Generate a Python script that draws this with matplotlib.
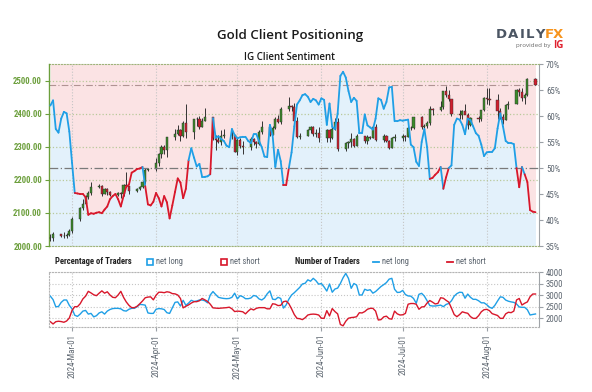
import numpy as np
import pandas as pd
import matplotlib
matplotlib.use('Agg')
import matplotlib.pyplot as plt
import matplotlib.dates as mdates
from matplotlib.collections import LineCollection
from matplotlib.patches import Rectangle
from matplotlib.lines import Line2D

# --- Gold daily candles (business days 2024-02-22 .. 2024-08-19) ---
candle_dates = pd.bdate_range('2024-02-22', '2024-08-19')
opens = [2025, 2024, 2035, 2031, 2030, 2034,
         2044, 2083, 2114, 2128, 2148, 2160, 2179, 2182, 2158, 2174, 2162, 2155, 2160, 2157, 2186, 2181, 2165, 2172, 2179, 2194, 2230,
         2232, 2250, 2280, 2300, 2290, 2329, 2339, 2352, 2333, 2372, 2344, 2383, 2383, 2361, 2379, 2392, 2327, 2322, 2316, 2332, 2337, 2335,
         2286, 2320, 2303, 2301, 2324, 2314, 2309, 2346, 2360, 2336, 2358, 2386, 2376, 2415, 2425, 2421, 2379, 2329, 2334, 2350, 2361, 2338, 2343,
         2327, 2350, 2326, 2355, 2376, 2294, 2311, 2316, 2324, 2303, 2333, 2319, 2330, 2328, 2360, 2322, 2334, 2319, 2298, 2327,
         2327, 2332, 2330, 2356, 2357, 2392, 2359, 2364, 2371, 2415, 2411, 2422, 2469, 2458, 2445, 2400, 2396, 2409, 2398, 2365, 2387, 2384, 2411,
         2448, 2446, 2443, 2410, 2390, 2382, 2427, 2431, 2472, 2465, 2447, 2456, 2507]
highs = [2035, 2041, 2037, 2041, 2038, 2052,
         2088, 2119, 2141, 2153, 2165, 2195, 2189, 2184, 2175, 2175, 2166, 2163, 2162, 2187, 2223, 2183, 2177, 2183, 2197, 2235, 2236,
         2266, 2281, 2305, 2305, 2331, 2354, 2365, 2354, 2378, 2431, 2384, 2392, 2395, 2388, 2418, 2392, 2335, 2337, 2352, 2353, 2353, 2337,
         2326, 2326, 2319, 2331, 2327, 2319, 2351, 2378, 2362, 2362, 2392, 2398, 2420, 2450, 2427, 2432, 2392, 2343, 2355, 2364, 2363, 2353, 2360,
         2353, 2353, 2359, 2388, 2387, 2316, 2317, 2342, 2327, 2338, 2334, 2335, 2332, 2365, 2368, 2338, 2335, 2322, 2331, 2339,
         2338, 2335, 2365, 2363, 2392, 2393, 2370, 2378, 2424, 2418, 2440, 2469, 2483, 2472, 2445, 2412, 2412, 2431, 2404, 2390, 2393, 2413, 2451,
         2477, 2477, 2461, 2419, 2401, 2431, 2440, 2475, 2477, 2478, 2463, 2509, 2510]
lows = [2015, 2016, 2026, 2025, 2025, 2030,
        2038, 2076, 2109, 2125, 2141, 2154, 2176, 2150, 2156, 2154, 2150, 2151, 2146, 2151, 2179, 2158, 2164, 2170, 2175, 2187, 2228,
        2228, 2243, 2267, 2278, 2268, 2321, 2336, 2319, 2330, 2326, 2324, 2364, 2355, 2359, 2379, 2320, 2292, 2312, 2307, 2326, 2323, 2285,
        2277, 2298, 2278, 2291, 2307, 2297, 2305, 2340, 2334, 2337, 2353, 2372, 2370, 2410, 2410, 2372, 2326, 2325, 2333, 2341, 2334, 2331, 2314,
        2315, 2315, 2325, 2350, 2287, 2287, 2298, 2301, 2301, 2302, 2311, 2308, 2323, 2326, 2318, 2316, 2314, 2293, 2296, 2318,
        2318, 2318, 2329, 2352, 2353, 2353, 2355, 2357, 2367, 2397, 2409, 2415, 2450, 2440, 2394, 2384, 2384, 2399, 2353, 2364, 2374, 2379, 2408,
        2430, 2427, 2385, 2385, 2368, 2381, 2415, 2429, 2455, 2439, 2431, 2455, 2486]
closes = [2024, 2035, 2031, 2030, 2034, 2044,
          2083, 2114, 2128, 2148, 2160, 2179, 2182, 2158, 2174, 2162, 2155, 2160, 2157, 2186, 2181, 2165, 2172, 2179, 2194, 2230, 2232,
          2250, 2280, 2300, 2290, 2329, 2339, 2352, 2333, 2372, 2344, 2383, 2383, 2361, 2379, 2392, 2327, 2322, 2316, 2332, 2337, 2335, 2286,
          2320, 2303, 2301, 2324, 2314, 2309, 2346, 2360, 2336, 2358, 2386, 2376, 2415, 2425, 2421, 2379, 2329, 2334, 2350, 2361, 2338, 2343, 2327,
          2350, 2326, 2355, 2376, 2294, 2311, 2316, 2324, 2303, 2333, 2319, 2330, 2328, 2360, 2322, 2334, 2319, 2298, 2327, 2327,
          2332, 2330, 2356, 2357, 2392, 2359, 2364, 2371, 2415, 2411, 2422, 2469, 2458, 2445, 2400, 2396, 2409, 2398, 2365, 2387, 2384, 2411, 2448,
          2446, 2443, 2410, 2390, 2382, 2427, 2431, 2472, 2465, 2447, 2456, 2507, 2488]

# --- IG client sentiment (daily 2024-02-22 .. 2024-08-19) ---
sent_dates = pd.date_range('2024-02-22', '2024-08-19')
pct_long = [62, 63, 57.5, 56.8, 59.5, 60.8, 60.5, 57,
            51, 45.2, 45.1, 45, 45, 44.4, 41, 41.3, 41.2, 41.4,
            41.5, 41.3, 42, 42.6, 44, 44.6, 45, 44, 42.6, 44.6,
            46.4, 46.8, 49.1, 49.4, 49.8, 49.9, 50.2, 46.5, 43, 42.8,
            43.5, 45.2, 44.2, 42.6, 44.6, 43.4, 40.3, 42.8, 45.4, 48,
            47.2, 44.2, 46, 51.5, 53.8, 52, 50.3, 50.8, 48.3, 48.3,
            48.4, 48.8, 59.6, 55.8, 56.1, 55.6, 55.2, 54.3, 54, 57.5,
            56.3, 55.7, 55.9, 56, 56, 55.2, 54.8, 56.5, 56.5, 55.2,
            54, 52.2, 52.1, 58.3, 56.3, 50.2, 53.5, 51.3, 46.7, 46.7,
            50, 53, 58, 62.2, 63, 64, 64.2, 63.7, 62.7, 63.3,
            63, 62.2, 63.4, 63.1, 58.3, 62.4, 57.9, 57.5, 60.5, 67.7,
            68.5, 67.4, 64.8, 62.7, 63.5, 62.9, 56.7, 56.7, 60.3, 58.2,
            57.8, 57.4, 59.5, 63.4, 63.1, 61.4, 62.7, 65.5, 65.6, 59,
            59, 59.2, 59.1, 59.2, 59.3, 54.5, 54, 51.2, 50.4, 55,
            57.5, 54, 47.9, 48.1, 48.7, 49.2, 50.2, 46, 48.2, 50,
            50.5, 58.3, 59.5, 59.3, 58.3, 56.5, 59.5, 59.2, 58, 56.7,
            56.2, 54.5, 52.3, 53, 53.1, 53.1, 53.8, 57.6, 60.5, 58,
            55.2, 54.8, 54.8, 54.6, 50, 46.3, 50.2, 48.8, 47.3, 41.9,
            41.6, 41.5]
num_long = [2950, 2800, 2490, 2500, 2680, 2783, 2783, 2550,
            2400, 2120, 2070, 2170, 2300, 2330, 2170, 2200, 2050, 2100,
            2220, 2270, 2170, 2300, 2370, 2410, 2420, 2420, 2400, 2320,
            2300, 2380, 2420, 2420, 2490, 2590, 2580, 2560, 2220, 2200,
            2200, 2380, 2410, 2400, 2370, 2230, 2200, 2440, 2680, 2700,
            2520, 2770, 2550, 2650, 2770, 2720, 2740, 2783, 2783, 2750,
            2660, 3000, 3150, 3020, 2900, 2870, 2850, 2840, 2850, 2900,
            3080, 2830, 2970, 2926, 2840, 2840, 2870, 2980, 2950, 2830,
            2783, 2870, 3050, 3180, 2820, 2800, 2900, 2850, 2430, 2570,
            2820, 3000, 3100, 3217, 3330, 3480, 3510, 3660, 3600, 3725,
            3620, 3470, 3500, 3350, 3170, 3480, 3120, 3260, 3300, 3500,
            3750, 3940, 3720, 3290, 3500, 3430, 3000, 3000, 3250, 3200,
            3230, 3080, 3150, 3260, 3370, 3450, 3540, 3690, 3725, 3250,
            3110, 3120, 3200, 3020, 2960, 2950, 2850, 2640, 3030, 3073,
            2950, 2750, 2540, 2522, 2522, 2540, 2560, 2493, 2590, 2630,
            2750, 2950, 3060, 3120, 3110, 2860, 3040, 2900, 2812, 2812,
            2750, 2660, 2660, 2580, 2470, 2420, 2550, 2740, 2920, 2900,
            2780, 2730, 2700, 2680, 2610, 2480, 2464, 2464, 2360, 2130,
            2155, 2175]
num_short = [1840, 1740, 1840, 1860, 1845, 1815, 1870, 2000,
             2330, 2493, 2493, 2620, 2830, 2950, 3160, 3090, 3010, 2970,
             3080, 3180, 3080, 3140, 3000, 2900, 2883, 3000, 3160, 2900,
             2700, 2550, 2450, 2450, 2510, 2620, 2740, 2880, 2910, 2920,
             2790, 2990, 3120, 3120, 3100, 3140, 3120, 3060, 3050, 3000,
             2850, 2440, 2510, 2570, 2650, 2710, 2710, 2750, 2850, 2790,
             2720, 2600, 2440, 2430, 2420, 2430, 2440, 2450, 2470, 2400,
             2280, 2300, 2290, 2270, 2180, 2300, 2400, 2350, 2420, 2450,
             2450, 2450, 2400, 2400, 2620, 2600, 2540, 2550, 2710, 2735,
             2620, 2400, 2150, 1985, 1970, 1930, 2010, 2130, 2160, 2170,
             2160, 2130, 1990, 1985, 2320, 2090, 2410, 2280, 2180, 1720,
             1660, 1860, 1990, 2020, 2030, 2057, 2230, 2220, 2280, 2380,
             2420, 2420, 2300, 1913, 1930, 2050, 2080, 1970, 1950, 2300,
             2180, 2130, 2140, 2200, 2600, 2630, 2630, 2600, 2380, 2480,
             2493, 2650, 2760, 2690, 2610, 2635, 2880, 2860, 2770, 2690,
             2430, 2150, 2057, 2150, 2270, 2232, 2205, 2060, 1985, 1985,
             2100, 2270, 2360, 2377, 2320, 2190, 2150, 2110, 1985, 1985,
             2180, 2250, 2232, 2300, 2783, 2850, 2565, 2640, 2700, 2926,
             3043, 3043]
# periods where the sentiment line is shown as net-short bias
short_spans = [('2024-03-02', '2024-03-26'), ('2024-03-28', '2024-04-12'),
               ('2024-04-21', '2024-04-21'), ('2024-05-18', '2024-05-19'),
               ('2024-07-11', '2024-07-14'), ('2024-07-16', '2024-07-17'),
               ('2024-08-12', '2024-08-13'), ('2024-08-15', '2024-08-18')]

month_ticks = pd.date_range('2024-03-01', '2024-08-01', freq='MS')

BLUE = '#1f9fe6'
RED = '#d8172b'
GREEN_AX = '#6c9f3c'
GRAY_TXT = '#5d6670'
narrow = ['Roboto Condensed', 'Roboto', 'DejaVu Sans']

plt.rcParams['font.family'] = ['Open Sans', 'DejaVu Sans']

fig = plt.figure(figsize=(5.92, 3.92), dpi=100)
rect = [49 / 592, 146 / 392, 490 / 592, 182 / 392]
xmin = mdates.date2num(pd.Timestamp('2024-02-21 12:00'))
xmax = mdates.date2num(pd.Timestamp('2024-08-20 07:00'))

# background: sentiment fills (percent scale)
ax_bg = fig.add_axes(rect)
ax_bg.fill_between(sent_dates, pct_long, 35, color='#e3f1fb', lw=0)
ax_bg.fill_between(sent_dates, pct_long, 70, color='#fbe3e4', lw=0)
ax_bg.set_ylim(35, 70)
ax_bg.set_xlim(xmin, xmax)
ax_bg.yaxis.tick_right()
ax_bg.set_yticks(range(35, 71, 5))
ax_bg.set_yticklabels([f'{v}%' for v in range(35, 71, 5)])
ax_bg.tick_params(axis='y', colors='#9aa0a6', labelcolor=GRAY_TXT, labelsize=6.3, length=3, width=0.8, pad=2)
ax_bg.set_xticks(month_ticks)
ax_bg.tick_params(axis='x', length=0, labelbottom=False)
ax_bg.grid(axis='x', ls=':', color='#c5c5c5', lw=0.8)
for lab in ax_bg.get_yticklabels():
    lab.set_family(narrow)
ax_bg.spines['left'].set_visible(False)
ax_bg.spines['right'].set_color('#a0a4a8')
for s in ('top', 'bottom'):
    ax_bg.spines[s].set_linestyle(':')
    ax_bg.spines[s].set_color('#9fb37a')

# price candles
ax_px = fig.add_axes(rect, sharex=ax_bg)
ax_px.patch.set_visible(False)
ax_px.set_ylim(2000, 2551)
ax_px.set_yticks(range(2000, 2501, 100))
ax_px.set_yticklabels([f'{v}.00' for v in range(2000, 2501, 100)])
ax_px.tick_params(axis='y', colors=GREEN_AX, labelsize=6.3, length=3, width=0.8, pad=2)
for lab in ax_px.get_yticklabels():
    lab.set_family(narrow)
    lab.set_weight('bold')
ax_px.tick_params(axis='x', length=0, labelbottom=False)
ax_px.grid(axis='y', ls=':', color='#b9c99a', lw=0.9)
for s in ('top', 'bottom', 'right'):
    ax_px.spines[s].set_visible(False)
ax_px.spines['left'].set_color(GREEN_AX)
ax_px.spines['left'].set_linewidth(1.0)

cx = mdates.date2num(candle_dates)
o = np.array(opens, float)
c = np.array(closes, float)
up = c >= o
ax_px.vlines(cx, lows, highs, color='#333333', lw=0.7, zorder=3)
ax_px.bar(cx, np.maximum(np.abs(c - o), 1.5), bottom=np.minimum(o, c), width=0.8,
          color=np.where(up, '#3c8a2a', '#d0202f'), edgecolor='#2a2a2a', linewidth=0.3, zorder=4)
ax_px.axhline(closes[-1], ls=(0, (6, 2, 1, 2)), color='#b09393', lw=0.8, zorder=2)

# sentiment line on top
ax_ln = fig.add_axes(rect, sharex=ax_bg)
ax_ln.patch.set_visible(False)
ax_ln.set_ylim(35, 70)
ax_ln.axis('off')
ax_ln.axhline(50, ls=(0, (7, 2, 1, 2)), color='#7a7a7a', lw=0.9)
sx = mdates.date2num(sent_dates)
pts = np.column_stack([sx, pct_long])
segs = np.stack([pts[:-1], pts[1:]], axis=1)
seg_red = np.zeros(len(segs), bool)
for a, b in short_spans:
    seg_red |= (sent_dates[:-1] >= pd.Timestamp(a)) & (sent_dates[:-1] <= pd.Timestamp(b))
lc = LineCollection(segs, colors=np.where(seg_red, RED, BLUE), linewidths=1.3,
                    capstyle='round', joinstyle='round')
ax_ln.add_collection(lc)

# bottom panel: number of traders
ax_n = fig.add_axes([49 / 592, 65 / 392, 490 / 592, 55 / 392], sharex=ax_bg)
ax_n.plot(sent_dates, num_long, color=BLUE, lw=1.0)
ax_n.plot(sent_dates, num_short, color=RED, lw=1.0)
ax_n.set_ylim(1609, 4000)
ax_n.yaxis.tick_right()
ax_n.set_yticks(range(2000, 4001, 500))
ax_n.tick_params(axis='y', colors='#9aa0a6', labelcolor=GRAY_TXT, labelsize=6.3, length=3, width=0.8, pad=2)
for lab in ax_n.get_yticklabels():
    lab.set_family(narrow)
ax_n.grid(True, ls=':', color='#c5c5c5', lw=0.8)
ax_n.set_xticks(month_ticks)
ax_n.xaxis.set_major_formatter(mdates.DateFormatter('%Y-%b-%d'))
ax_n.tick_params(axis='x', colors='#9aa0a6', labelcolor=GRAY_TXT, labelsize=6.3, length=3, width=0.8,
                 labelrotation=90, pad=2)
for lab in ax_n.get_xticklabels():
    lab.set_family(narrow)
for s in ('top', 'bottom', 'left'):
    ax_n.spines[s].set_linestyle(':')
    ax_n.spines[s].set_color('#b5b5b5')
ax_n.spines['right'].set_color('#a0a4a8')
ax_n.set_xlim(xmin, xmax)

# titles
fig.text(290 / 592, 1 - 36 / 392, 'Gold Client Positioning', ha='center', va='center',
         fontsize=9.6, fontweight='semibold', color='#1a1a1a')
fig.text(289 / 592, 1 - 57 / 392, 'IG Client Sentiment', ha='center', va='center',
         fontsize=7, fontweight='semibold', color='#1a1a1a')

# logo
for ch, xp, col in zip('DAILYFX', [501, 513, 522.5, 530, 539.5, 549, 558],
                       ['#4b5563'] * 5 + ['#f7941d'] * 2):
    fig.text(xp / 592, 1 - 34 / 392, ch, ha='center', va='center', fontsize=9.5,
             fontweight='bold', color=col, family=['DejaVu Sans'])
fig.text(550 / 592, 1 - 45 / 392, 'provided by', ha='right', va='center', fontsize=4.5, color='#6b6b6b')
fig.text(553 / 592, 1 - 45 / 392, 'IG', ha='left', va='center', fontsize=7, fontweight='bold', color='#e0202e')

# legend row
ly = 1 - 262 / 392
fig.text(55 / 592, ly, 'Percentage of Traders', ha='left', va='center', fontsize=6.2,
         fontweight='bold', color='#222222', family=narrow)
for xp, col, lab in [(147, BLUE, 'net long'), (221, RED, 'net short')]:
    fig.patches.append(Rectangle((xp / 592, ly - 3 / 392), 6 / 592, 6 / 392, transform=fig.transFigure,
                                 facecolor='white', edgecolor=col, lw=1.2))
    fig.text((xp + 9) / 592, ly, lab, ha='left', va='center', fontsize=6.2, color=GRAY_TXT, family=narrow)
fig.text(295 / 592, ly, 'Number of Traders', ha='left', va='center', fontsize=6.2,
         fontweight='bold', color='#222222', family=narrow)
for xp, col, lab in [(373, BLUE, 'net long'), (447, RED, 'net short')]:
    fig.lines.append(Line2D([xp / 592, (xp + 6) / 592], [ly, ly], transform=fig.transFigure, color=col, lw=1.3))
    fig.text((xp + 9) / 592, ly, lab, ha='left', va='center', fontsize=6.2, color=GRAY_TXT, family=narrow)

fig.savefig('out.png', dpi=100, facecolor='white')
